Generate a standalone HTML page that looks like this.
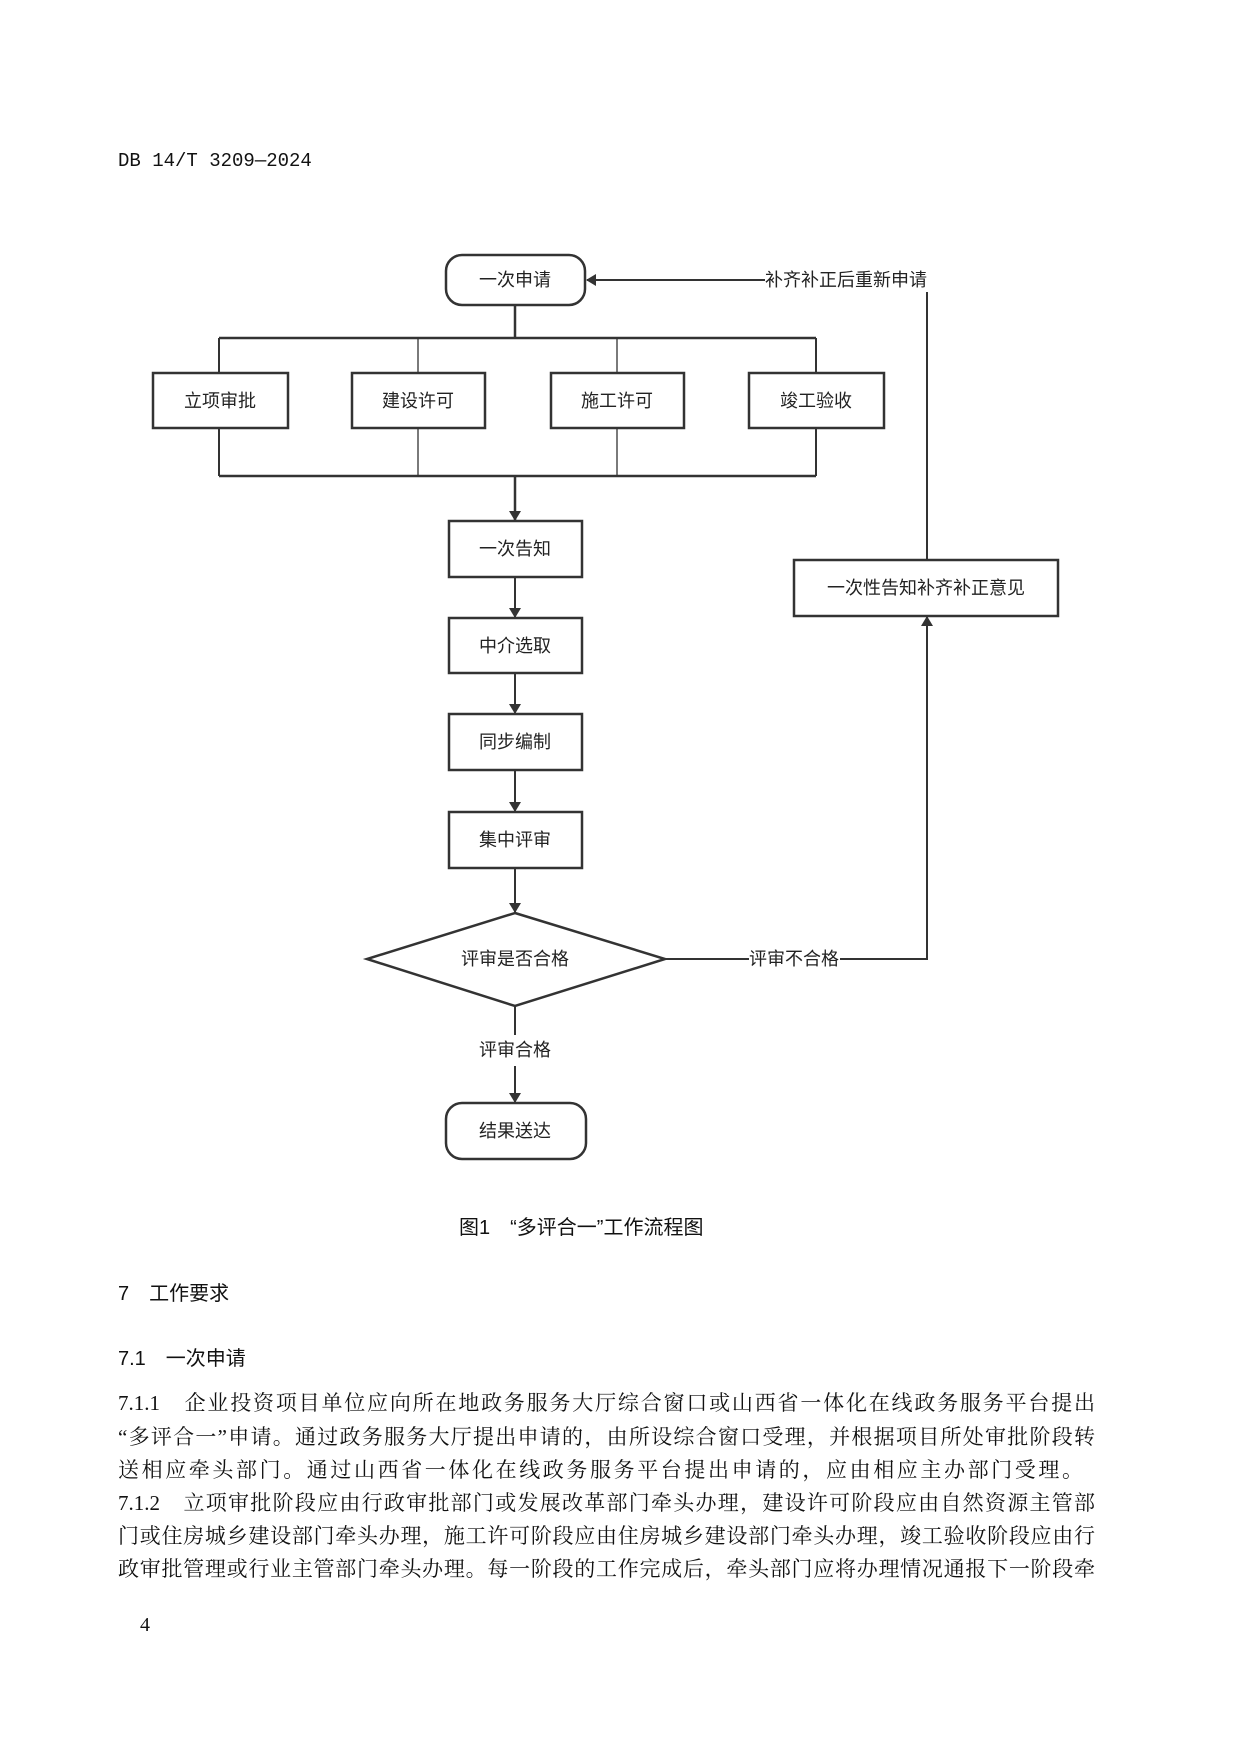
<!DOCTYPE html>
<html><head><meta charset="utf-8"><style>
html,body{margin:0;padding:0;background:#fff;}
body{width:1241px;height:1755px;position:relative;overflow:hidden;}
.t{position:absolute;white-space:nowrap;color:#111;}
.hd{font-family:"Liberation Mono","Noto Sans CJK SC",monospace;font-size:19px;left:118px;top:150px;}
.h{font-family:"Liberation Sans","Noto Sans CJK SC",sans-serif;font-size:20px;}
.p{position:absolute;left:118px;width:977px;font-family:"Liberation Serif","Noto Serif CJK SC",serif;font-size:21px;color:#111;text-align:justify;text-align-last:justify;white-space:nowrap;line-height:26px;}
svg text{font-family:"Liberation Sans","Noto Sans CJK SC",sans-serif;font-size:18px;fill:#222;}
</style></head><body>
<div class="t hd">DB 14/T 3209—2024</div>
<svg width="1241" height="1755" style="position:absolute;left:0;top:0">
<defs><marker id="a" markerWidth="10" markerHeight="12" refX="9" refY="6" orient="auto" markerUnits="userSpaceOnUse"><path d="M0,0 L10,6 L0,12 Z" fill="#333"/></marker></defs>
<g stroke="#333" fill="none" stroke-width="2">
<rect x="446" y="255" width="139" height="50" rx="16" stroke-width="2.5"/>
<line x1="515" y1="305" x2="515" y2="338" stroke-width="2.5"/>
<line x1="219" y1="338" x2="816" y2="338" stroke-width="2.5"/>
<line x1="219" y1="338" x2="219" y2="373"/><line x1="418" y1="338" x2="418" y2="373" stroke-width="1.3"/>
<line x1="617" y1="338" x2="617" y2="373" stroke-width="1.3"/><line x1="816" y1="338" x2="816" y2="373"/>
<rect x="153" y="373" width="135" height="55" stroke-width="2.5"/>
<rect x="352" y="373" width="133" height="55" stroke-width="2.5"/>
<rect x="551" y="373" width="133" height="55" stroke-width="2.5"/>
<rect x="749" y="373" width="135" height="55" stroke-width="2.5"/>
<line x1="219" y1="428" x2="219" y2="476"/><line x1="418" y1="428" x2="418" y2="476" stroke-width="1.3"/>
<line x1="617" y1="428" x2="617" y2="476" stroke-width="1.3"/><line x1="816" y1="428" x2="816" y2="476"/>
<line x1="219" y1="476" x2="816" y2="476" stroke-width="2.5"/>
<line x1="515" y1="476" x2="515" y2="520" marker-end="url(#a)" stroke-width="2.5"/>
<rect x="449" y="521" width="133" height="56" stroke-width="2.5"/>
<line x1="515" y1="577" x2="515" y2="617" marker-end="url(#a)"/>
<rect x="449" y="618" width="133" height="55" stroke-width="2.5"/>
<line x1="515" y1="673" x2="515" y2="713" marker-end="url(#a)"/>
<rect x="449" y="714" width="133" height="56" stroke-width="2.5"/>
<line x1="515" y1="770" x2="515" y2="811" marker-end="url(#a)"/>
<rect x="449" y="812" width="133" height="56" stroke-width="2.5"/>
<line x1="515" y1="868" x2="515" y2="912" marker-end="url(#a)"/>
<polygon points="515,913 665,959 515,1006 367,959" stroke-width="2.5"/>
<line x1="515" y1="1006" x2="515" y2="1035"/>
<line x1="515" y1="1066" x2="515" y2="1102" marker-end="url(#a)"/>
<rect x="446" y="1103" width="140" height="56" rx="16" stroke-width="2.5"/>
<line x1="665" y1="959" x2="749" y2="959"/>
<polyline points="840,959 927,959 927,617" marker-end="url(#a)"/>
<rect x="794" y="560" width="264" height="56" stroke-width="2.5"/>
<line x1="927" y1="560" x2="927" y2="292"/>
<line x1="765" y1="280" x2="587" y2="280" marker-end="url(#a)"/>
</g>
<g text-anchor="middle" dominant-baseline="central">
<text x="515" y="280">一次申请</text>
<text x="220" y="401">立项审批</text><text x="418" y="401">建设许可</text>
<text x="617" y="401">施工许可</text><text x="816" y="401">竣工验收</text>
<text x="515" y="549">一次告知</text><text x="515" y="646">中介选取</text>
<text x="515" y="742">同步编制</text><text x="515" y="840">集中评审</text>
<text x="515" y="959">评审是否合格</text>
<text x="515" y="1050">评审合格</text>
<text x="515" y="1131">结果送达</text>
<text x="794" y="959">评审不合格</text>
<text x="926" y="588">一次性告知补齐补正意见</text>
<text x="846" y="280">补齐补正后重新申请</text>
</g>
</svg>
<div class="t h" style="left:459px;top:1211px;">图1　“多评合一”工作流程图</div>
<div class="t h" style="left:118px;top:1277px;">7　工作要求</div>
<div class="t h" style="left:118px;top:1342px;">7.1　一次申请</div>
<div class="p" style="top:1390px;">7.1.1　企业投资项目单位应向所在地政务服务大厅综合窗口或山西省一体化在线政务服务平台提出</div>
<div class="p" style="top:1424px;">“多评合一”申请。通过政务服务大厅提出申请的，由所设综合窗口受理，并根据项目所处审批阶段转</div>
<div class="p" style="top:1457px;text-align-last:left;letter-spacing:2.6px;">送相应牵头部门。通过山西省一体化在线政务服务平台提出申请的，应由相应主办部门受理。</div>
<div class="p" style="top:1490px;">7.1.2　立项审批阶段应由行政审批部门或发展改革部门牵头办理，建设许可阶段应由自然资源主管部</div>
<div class="p" style="top:1523px;">门或住房城乡建设部门牵头办理，施工许可阶段应由住房城乡建设部门牵头办理，竣工验收阶段应由行</div>
<div class="p" style="top:1556px;">政审批管理或行业主管部门牵头办理。每一阶段的工作完成后，牵头部门应将办理情况通报下一阶段牵</div>
<div class="t" style="left:140px;top:1614px;font-family:'Liberation Serif',serif;font-size:20px;">4</div>
</body></html>
